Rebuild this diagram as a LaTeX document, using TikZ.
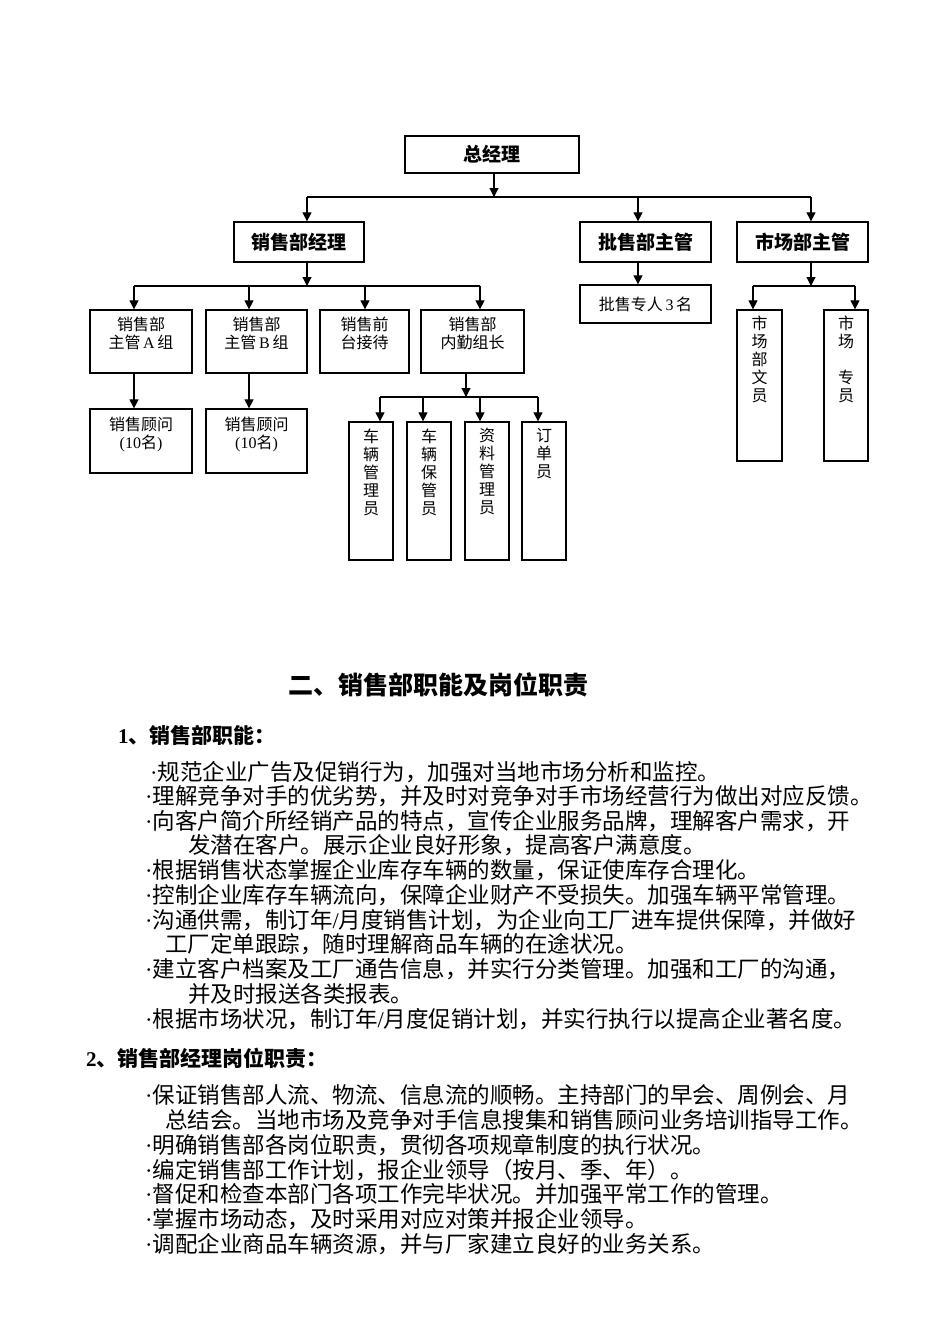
\documentclass[tikz,border=0pt]{standalone}
\usepackage{fontspec}
\setmainfont{Liberation Serif}
\newfontfamily\cjk{Noto Sans CJK SC}
\usetikzlibrary{arrows.meta}
\newcommand\bdot{{\rmfamily ·}}
\begin{document}
\begin{tikzpicture}[x=1pt,y=-1pt,
  box/.style={draw, line width=1.3pt, inner sep=0pt},
  conn/.style={line width=1.1pt},
  arr/.style={line width=1.1pt, -{Triangle[length=9pt,width=9pt]}},
  hd/.style={font=\cjk\bfseries\fontsize{19}{22}\selectfont},
  small/.style={font=\cjk\fontsize{16}{18}\selectfont, align=center, inner sep=0pt, anchor=north},
  body/.style={font=\cjk\fontsize{22.5}{25}\selectfont, anchor=west, inner sep=0pt},
  sec/.style={font=\cjk\bfseries\fontsize{21}{24}\selectfont, anchor=west, inner sep=0pt},
  title/.style={font=\cjk\bfseries\fontsize{25}{28}\selectfont, anchor=west, inner sep=0pt}]
\useasboundingbox (0,0) rectangle (950,1344);

% ---------- level 1 / 2 boxes
\node[box, hd, minimum width=174, minimum height=37] (gm) at (492,154.5) {总经理};
\node[box, hd, minimum width=130, minimum height=40] (sm) at (299,242) {销售部经理};
\node[box, hd, minimum width=131, minimum height=40] (ws) at (645.5,242) {批售部主管};
\node[box, hd, minimum width=131, minimum height=40] (mk) at (802.5,242) {市场部主管};
\node[box, font=\cjk\fontsize{16}{18}\selectfont, minimum width=131, minimum height=38] (wsp) at (645.5,304) {批售专人\,{\rmfamily 3}\,名};

% ---------- sales row
\node[box, minimum width=102, minimum height=63] (A) at (141,341.5) {};
\node[box, minimum width=101, minimum height=63] (B) at (256.5,341.5) {};
\node[box, minimum width=89, minimum height=63] (F) at (364.5,341.5) {};
\node[box, minimum width=103, minimum height=63] (N) at (472.5,341.5) {};
\node[small] (tA) at ([yshift=-7pt]A.north) {销售部\\主管\,{\rmfamily A}\,组};
\node[small] (tB) at ([yshift=-7pt]B.north) {销售部\\主管\,{\rmfamily B}\,组};
\node[small] (tF) at ([yshift=-7pt]F.north) {销售前\\台接待};
\node[small] (tN) at ([yshift=-7pt]N.north) {销售部\\内勤组长};

\node[box, minimum width=102, minimum height=64] (A2) at (141,441) {};
\node[box, minimum width=101, minimum height=64] (B2) at (256.5,441) {};
\node[small] (tA2) at ([yshift=-8pt]A2.north) {销售顾问\\{\rmfamily (10}名{\rmfamily )}};
\node[small] (tB2) at ([yshift=-8pt]B2.north) {销售顾问\\{\rmfamily (10}名{\rmfamily )}};

% ---------- tall boxes
\node[box, minimum width=44, minimum height=138] (T1) at (371,491) {};
\node[box, minimum width=44, minimum height=138] (T2) at (429,491) {};
\node[box, minimum width=44, minimum height=138] (T3) at (487,491) {};
\node[box, minimum width=44, minimum height=138] (T4) at (544,491) {};
\node[small] (tT1) at ([yshift=-7pt]T1.north) {车\\辆\\管\\理\\员};
\node[small] (tT2) at ([yshift=-7pt]T2.north) {车\\辆\\保\\管\\员};
\node[small] (tT3) at ([yshift=-7pt]T3.north) {资\\料\\管\\理\\员};
\node[small] (tT4) at ([yshift=-7pt]T4.north) {订\\单\\员};

\node[box, minimum width=45, minimum height=151] (M1) at (759.5,385.5) {};
\node[box, minimum width=44, minimum height=151] (M2) at (846,385.5) {};
\node[small] (tM1) at ([yshift=-6pt]M1.north) {市\\场\\部\\文\\员};
\node[small] (tM2) at ([yshift=-6pt]M2.north) {市\\场\\~\\专\\员};

% ---------- connectors
\coordinate (b1) at (494,197);
\coordinate (b1l) at (307,197);
\coordinate (b1m) at (638,197);
\coordinate (b1r) at (811,197);
\draw[arr] (gm.south -| b1) -- (b1);
\draw[conn] (b1l) -- (b1r);
\draw[arr] (b1l) -- (b1l |- sm.north);
\draw[arr] (b1m) -- (b1m |- ws.north);
\draw[arr] (b1r) -- (b1r |- mk.north);
\draw[arr] (b1m |- ws.south) -- (b1m |- wsp.north);

\coordinate (b2) at (307,286);
\coordinate (b2a) at (134,286);
\coordinate (b2b) at (249,286);
\coordinate (b2c) at (365,286);
\coordinate (b2d) at (480,286);
\draw[arr] (sm.south -| b2) -- (b2);
\draw[conn] (b2a) -- (b2d);
\draw[arr] (b2a) -- (b2a |- A.north);
\draw[arr] (b2b) -- (b2b |- B.north);
\draw[arr] (b2c) -- (b2c |- F.north);
\draw[arr] (b2d) -- (b2d |- N.north);
\draw[arr] (b2a |- A.south) -- (b2a |- A2.north);
\draw[arr] (b2b |- B.south) -- (b2b |- B2.north);

\coordinate (b3) at (811,286);
\coordinate (b3a) at (753,286);
\coordinate (b3b) at (855,286);
\draw[arr] (mk.south -| b3) -- (b3);
\draw[conn] (b3a) -- (b3b);
\draw[arr] (b3a) -- (b3a |- M1.north);
\draw[arr] (b3b) -- (b3b |- M2.north);

\coordinate (b4) at (466,397);
\coordinate (b4a) at (380,397);
\coordinate (b4b) at (423,397);
\coordinate (b4c) at (480,397);
\coordinate (b4d) at (538,397);
\draw[arr] (N.south -| b4) -- (b4);
\draw[conn] (b4a) -- (b4d);
\draw[arr] (b4a) -- (b4a |- T1.north);
\draw[arr] (b4b) -- (b4b |- T2.north);
\draw[arr] (b4c) -- (b4c |- T3.north);
\draw[arr] (b4d) -- (b4d |- T4.north);

% ---------- text section
\node[title] (h0) at (288,685) {二、销售部职能及岗位职责};
\node[sec] (h1) at (118,735) {{\rmfamily\bfseries 1}、销售部职能：};
\node[body] (l1) at (150,772) {\bdot 规范企业广告及促销行为，加强对当地市场分析和监控。};
\node[body] (l2) at (145,796) {\bdot 理解竞争对手的优劣势，并及时对竞争对手市场经营行为做出对应反馈。};
\node[body] (l3) at (145,821) {\bdot 向客户简介所经销产品的特点，宣传企业服务品牌，理解客户需求，开};
\node[body] (l4) at (188,845) {发潜在客户。展示企业良好形象，提高客户满意度。};
\node[body] (l5) at (145,870) {\bdot 根据销售状态掌握企业库存车辆的数量，保证使库存合理化。};
\node[body] (l6) at (145,895) {\bdot 控制企业库存车辆流向，保障企业财产不受损失。加强车辆平常管理。};
\node[body] (l7) at (145,920) {\bdot 沟通供需，制订年{\rmfamily /}月度销售计划，为企业向工厂进车提供保障，并做好};
\node[body] (l8) at (165,944) {工厂定单跟踪，随时理解商品车辆的在途状况。};
\node[body] (l9) at (145,969) {\bdot 建立客户档案及工厂通告信息，并实行分类管理。加强和工厂的沟通，};
\node[body] (l10) at (188,994) {并及时报送各类报表。};
\node[body] (l11) at (145,1019) {\bdot 根据市场状况，制订年{\rmfamily /}月度促销计划，并实行执行以提高企业著名度。};

\node[sec] (h2) at (86,1058) {{\rmfamily\bfseries 2}、销售部经理岗位职责：};
\node[body] (m1) at (145,1095) {\bdot 保证销售部人流、物流、信息流的顺畅。主持部门的早会、周例会、月};
\node[body] (m2) at (165,1120) {总结会。当地市场及竞争对手信息搜集和销售顾问业务培训指导工作。};
\node[body] (m3) at (145,1145) {\bdot 明确销售部各岗位职责，贯彻各项规章制度的执行状况。};
\node[body] (m4) at (145,1170) {\bdot 编定销售部工作计划，报企业领导（按月、季、年）。};
\node[body] (m5) at (145,1194) {\bdot 督促和检查本部门各项工作完毕状况。并加强平常工作的管理。};
\node[body] (m6) at (145,1219) {\bdot 掌握市场动态，及时采用对应对策并报企业领导。};
\node[body] (m7) at (145,1244) {\bdot 调配企业商品车辆资源，并与厂家建立良好的业务关系。};
\end{tikzpicture}
\end{document}
